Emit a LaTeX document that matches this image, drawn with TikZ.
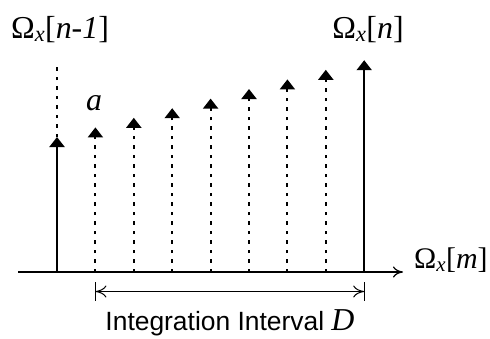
\documentclass[tikz,border=0pt]{standalone}
\usepackage{fontspec}
\setmainfont{Liberation Serif}
\newfontfamily\sansf{Liberation Sans}
\usetikzlibrary{arrows.meta}
\begin{document}
\begin{tikzpicture}[x=1bp,y=-1bp,
  stemline/.style={line width=2bp, -{Triangle[width=15bp,length=10bp]}},
  dotstem/.style={stemline, dash pattern=on 3.5bp off 6bp},
  dotline/.style={line width=2bp, dash pattern=on 3.5bp off 6bp},
  axisline/.style={line width=1.5bp, -{To[length=10bp,width=11bp,line width=1.2bp]}},
  intline/.style={line width=1bp, {To[length=11bp,width=12bp]}-{To[length=11bp,width=12bp]}},
  tickline/.style={line width=1bp},
  mathlab/.style={inner sep=0pt, font=\fontsize{32}{38}\selectfont},
  textlab/.style={inner sep=0pt, font=\fontsize{26.5}{32}\selectfont\sansf}
]
\useasboundingbox (0,0) rectangle (490,338);
\foreach \k in {0,...,8} {
  \coordinate (b\k) at ({57+38.4*\k},272);
  \coordinate (t\k) at ({57+38.4*\k},{137-9.6*\k});
}
\coordinate (axs) at (18,272);
\coordinate (axe) at (403,272);
\coordinate (top0) at (57,61);
% axis
\draw[axisline] (axs) -- (axe);
% stems
\draw[stemline] (b0) -- (t0);
\draw[dotline] (t0) -- (top0);
\foreach \k in {1,...,7} { \draw[dotstem] (b\k) -- (t\k); }
\draw[stemline] (b8) -- (t8);
% integration interval
\coordinate (ia) at ({57+38.4},291.5);
\coordinate (ib) at ({57+38.4*8},291.5);
\coordinate (ia1) at ({57+38.4},282);
\coordinate (ia2) at ({57+38.4},301);
\coordinate (ib1) at ({57+38.4*8},282);
\coordinate (ib2) at ({57+38.4*8},301);
\draw[intline] (ia) -- (ib);
\draw[tickline] (ia1) -- (ia2);
\draw[tickline] (ib1) -- (ib2);
% labels
\node[mathlab, anchor=base] (lprev) at (60,38) {Ω\textsubscript{\textit{x}}[\textit{n-1}]};
\node[mathlab, anchor=base] (lcur) at (368,38) {Ω\textsubscript{\textit{x}}[\textit{n}]};
\node[mathlab, anchor=base west, font=\fontsize{30}{36}\selectfont] (lm) at (414,268) {Ω\textsubscript{\textit{x}}[\textit{m}]};
\node[mathlab, anchor=base west] (la) at (86,110) {\textit{a}};
\node[textlab, anchor=base] (lint) at (230,330) {Integration Interval {\fontsize{32}{38}\rmfamily\itshape D}};
\end{tikzpicture}
\end{document}
